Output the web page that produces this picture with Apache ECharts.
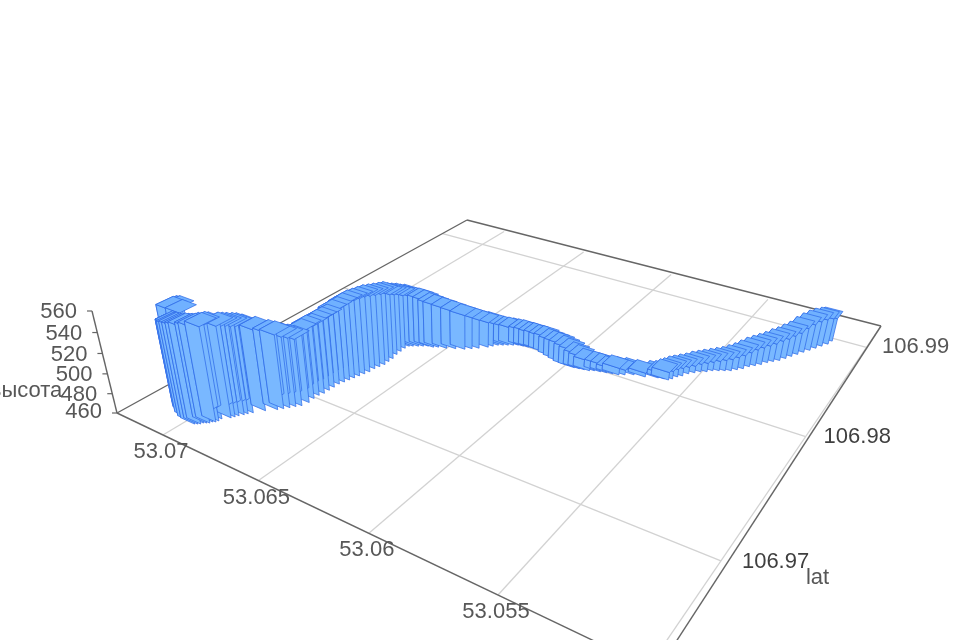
<!DOCTYPE html><html><head><meta charset="utf-8"><style>html,body{margin:0;background:#fff}#c{width:960px;height:640px;filter:blur(0.7px)}</style></head><body><div id="c"></div>
<script src="https://cdn.jsdelivr.net/npm/echarts@6/dist/echarts.min.js"></script>
<script>
var lonValues=[53.07116,53.07117,53.07107,53.07089,53.07114,53.07083,53.07048,53.07017,53.06996,53.06986,53.06977,53.06973,53.06963,53.06953,53.06949,53.06939,53.06935,53.06936,53.06912,53.06904,53.06897,53.06886,53.06878,53.06867,53.06838,53.06804,53.06789,53.06774,53.06760,53.06745,53.06737,53.06741,53.06740,53.06733,53.06732,53.06731,53.06730,53.06723,53.06716,53.06710,53.06703,53.06696,53.06689,53.06688,53.06681,53.06674,53.06676,53.06677,53.06685,53.06687,53.06689,53.06685,53.06671,53.06652,53.06634,53.06616,53.06592,53.06574,53.06539,53.06504,53.06468,53.06445,53.06422,53.06394,53.06381,53.06367,53.06349,53.06331,53.06312,53.06294,53.06271,53.06248,53.06225,53.06202,53.06174,53.06147,53.06116,53.06084,53.06054,53.06023,53.05997,53.05975,53.05954,53.05932,53.05915,53.05890,53.05865,53.05840,53.05815,53.05794,53.05763,53.05717,53.05669,53.05645,53.05627,53.05617,53.05606,53.05592,53.05578,53.05560,53.05542,53.05521,53.05504,53.05482,53.05461,53.05440,53.05422,53.05404,53.05389,53.05371,53.05353,53.05337,53.05319,53.05300,53.05284,53.05269,53.05253,53.05237,53.05220,53.05204,53.05188,53.05171,53.05164];
var latValues=[106.96657,106.96678,106.96686,106.96679,106.96637,106.96610,106.96585,106.96570,106.96566,106.96574,106.96582,106.96595,106.96603,106.96611,106.96625,106.96633,106.96647,106.96667,106.96697,106.96713,106.96730,106.96750,106.96766,106.96786,106.96831,106.96870,106.96892,106.96915,106.96938,106.96960,106.97000,106.97040,106.97075,106.97103,106.97138,106.97173,106.97209,106.97238,106.97267,106.97296,106.97325,106.97355,106.97385,106.97423,106.97453,106.97484,106.97520,106.97556,106.97601,106.97639,106.97677,106.97706,106.97718,106.97733,106.97748,106.97763,106.97769,106.97784,106.97799,106.97822,106.97844,106.97870,106.97895,106.97931,106.97955,106.97979,106.97994,106.98009,106.98024,106.98039,106.98045,106.98051,106.98056,106.98062,106.98058,106.98054,106.98041,106.98028,106.98016,106.98003,106.98000,106.98005,106.98010,106.98016,106.98030,106.98038,106.98047,106.98055,106.98063,106.98080,106.98106,106.98119,106.98147,106.98155,106.98157,106.98178,106.98210,106.98233,106.98269,106.98296,106.98322,106.98340,106.98366,106.98384,106.98401,106.98418,106.98445,106.98472,106.98509,106.98536,106.98564,106.98601,106.98629,106.98657,106.98695,106.98734,106.98772,106.98812,106.98851,106.98891,106.98931,106.98971,106.99017];
var altValues=[555,554,554,552,543,547,550,553,554,554,554,553,553,553,553,553,553,551,550,549,548,547,546,544,540,536,534,531,529,527,531,531,530,532,532,532,534,535,537,538,538,538,538,536,535,534,532,528,524,521,517,515,513,512,511,509,507,505,503,500,497,494,491,487,485,481,480,479,478,477,477,477,476,476,476,477,477,478,479,479,478,475,473,470,468,468,467,465,467,465,464,464,464,465,468,468,468,468,467,467,468,469,469,470,471,472,473,474,475,477,478,478,479,481,481,482,483,486,488,489,489,488,485];
var lonTicks=['53.07','53.065','53.06','53.055'];
var latTicks=['106.97','106.98','106.99'];
var altTicks=['460','480','500','520','540','560'];

// Frame of the box in data units, and where it lands on the page
var lonNear=53.07267,lonFar=53.04982,latNear=106.96375,latFar=106.9929,altBase=460,altSpan=100,lonEdge=53.05007;
var cornerA=[117,413],cornerF=[657,671],cornerC=[881,326],cornerB=[467,220],vanish=[470,1853],vk=-0.06615;
var halfLon=0.00039,halfLat=0.0005;

var dx1=cornerF[0]-cornerC[0],dx2=cornerB[0]-cornerC[0],sx=cornerA[0]-cornerF[0]+cornerC[0]-cornerB[0];
var dy1=cornerF[1]-cornerC[1],dy2=cornerB[1]-cornerC[1],sy=cornerA[1]-cornerF[1]+cornerC[1]-cornerB[1];
var det=dx1*dy2-dx2*dy1,g=(sx*dy2-dx2*sy)/det,h=(dx1*sy-sx*dy1)/det;
var a=cornerF[0]-cornerA[0]+g*cornerF[0],b=cornerB[0]-cornerA[0]+h*cornerB[0];
var c=cornerF[1]-cornerA[1]+g*cornerF[1],d=cornerB[1]-cornerA[1]+h*cornerB[1];
function project(lon,lat,alt){
  var u=(lon-lonNear)/(lonFar-lonNear),v=(lat-latNear)/(latFar-latNear),t=(alt-altBase)/altSpan;
  var w=1+g*u+h*v+vk*t;
  return [(cornerA[0]+a*u+b*v+vk*t*vanish[0])/w,(cornerA[1]+c*u+d*v+vk*t*vanish[1])/w];
}
function edgeLon(lat){var f=(lat-latNear)/(latFar-latNear);return lonEdge+(lonFar-lonEdge)*f;}

var order=lonValues.map(function(_,i){return i;}).sort(function(p,q){
  function dist(i){var u=(lonValues[i]-lonNear)/(lonFar-lonNear),v=(latValues[i]-latNear)/(latFar-latNear);return Math.pow(u-1.243,2)+Math.pow(v+0.715,2);}
  return dist(q)-dist(p);
});
var barData=order.map(function(i){return [lonValues[i],latValues[i],altValues[i]];});

var GRID='#d2d2d2',AXIS='#666',TEXT='#575757',FONT='22px "Liberation Sans", Arial, sans-serif';
function renderFrame(params,api){
  var kids=[];
  function P(p){return api.coord(p);}
  function seg(p,q,col,w){var s=P(p),e=P(q);kids.push({type:'line',shape:{x1:s[0],y1:s[1],x2:e[0],y2:e[1]},style:{stroke:col,lineWidth:w},silent:true});}
  function lab(p,ox,oy,t,al,col){var s=P(p);kids.push({type:'text',x:s[0]+ox,y:s[1]+oy,silent:true,style:{text:t,font:FONT,fill:col||TEXT,align:al,verticalAlign:'middle'}});}
  lonTicks.forEach(function(t){var l=+t;seg(project(l,latNear,altBase),project(l,latFar-0.0003,altBase),GRID,1.3);});
  latTicks.forEach(function(t){var l=+t;seg(project(lonNear,l,altBase),project(edgeLon(l),l,altBase),GRID,1.3);});
  seg(project(edgeLon(latNear),latNear,altBase),project(lonFar,latFar,altBase),GRID,1.3);
  seg(project(lonNear,latNear,altBase),project(lonNear,latFar,altBase),AXIS,1.4);
  seg(project(lonNear,latFar,altBase),project(lonFar,latFar,altBase),AXIS,1.4);
  seg(project(lonFar,latFar,altBase),project(lonFar,latNear,altBase),AXIS,1.4);
  seg(project(lonFar,latNear,altBase),project(lonNear,latNear,altBase),AXIS,1.4);
  seg(project(lonNear,latNear,altBase),project(lonNear,latNear,altBase+altSpan),AXIS,1.4);
  altTicks.forEach(function(t,i){var s=project(lonNear,latNear,+t);seg(s,[s[0]-5,s[1]],AXIS,1.2);lab(s,-15,i===0?-1:1,t,'right');});
  lonTicks.forEach(function(t){lab(project(+t,latNear,altBase),-2,17,t,'center');});
  latTicks.forEach(function(t){lab(project(lonFar,+t,altBase),15,-1,t,'left',t==='106.99'?TEXT:'#3f3f3f');});
  lab(project(lonFar,106.97,altBase),79,15,'lat','left');
  lab(project(lonNear,latNear,480),-50,-3,'высота','right');
  return {type:'group',children:kids};
}
function renderBar(params,api){
  var lon=api.value(0),lat=api.value(1),alt=api.value(2);
  var lo0=lon-halfLon,lo1=lon+halfLon,la0=lat-halfLat,la1=lat+halfLat;
  function pt(lo,la,z){return api.coord(project(lo,la,z));}
  function poly(list,fill){return {type:'polygon',silent:true,shape:{points:list},style:{fill:fill,stroke:'rgba(44,104,232,0.85)',lineWidth:0.85}};}
  return {type:'group',children:[
    poly([pt(lo1,la0,altBase),pt(lo1,la1,altBase),pt(lo1,la1,alt),pt(lo1,la0,alt)],'#79b8ff'),
    poly([pt(lo0,la0,altBase),pt(lo1,la0,altBase),pt(lo1,la0,alt),pt(lo0,la0,alt)],'#79b8ff'),
    poly([pt(lo0,la0,alt),pt(lo1,la0,alt),pt(lo1,la1,alt),pt(lo0,la1,alt)],'#70b1ff')
  ]};
}
var chart=echarts.init(document.getElementById('c'),null,{renderer:'canvas',width:960,height:640});
chart.setOption({
  animation:false,backgroundColor:'#fff',
  grid:{left:0,right:0,top:0,bottom:0},
  xAxis:{type:'value',min:0,max:960,show:false},
  yAxis:{type:'value',min:0,max:640,inverse:true,show:false},
  series:[
    {type:'custom',coordinateSystem:'cartesian2d',clip:false,silent:true,z:1,renderItem:renderFrame,data:[[0,0]]},
    {type:'custom',coordinateSystem:'cartesian2d',clip:false,silent:true,z:2,renderItem:renderBar,encode:{x:[],y:[]},dimensions:['lon','lat','alt'],data:barData}
  ]
});
</script></body></html>
